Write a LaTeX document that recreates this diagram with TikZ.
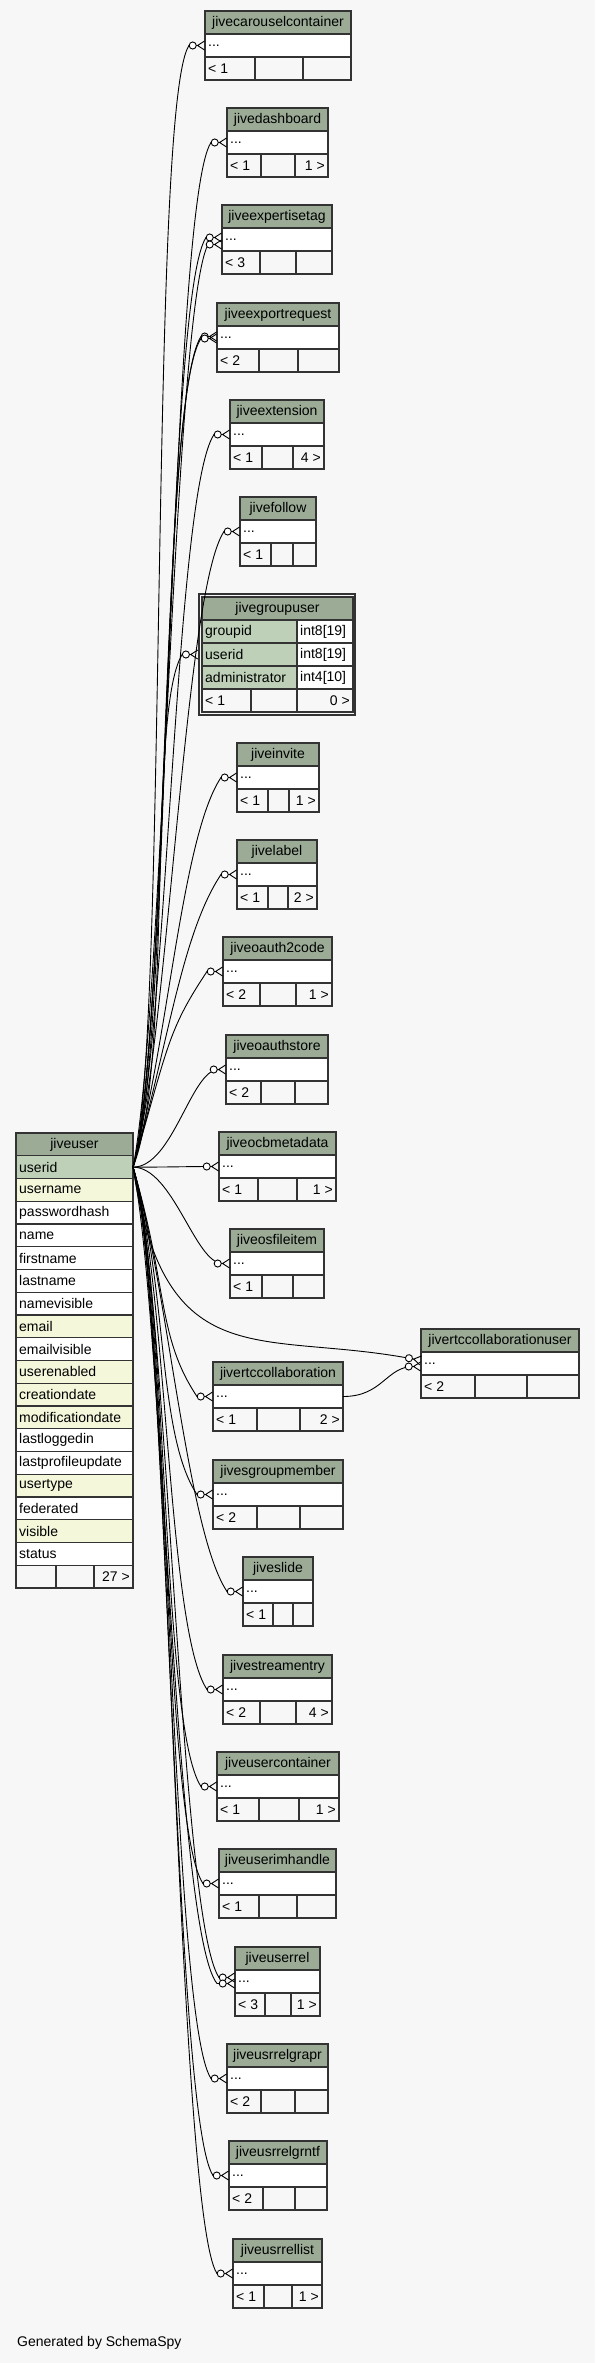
\documentclass[tikz,border=0pt]{standalone}
\usepackage{fontspec}
\setmainfont{Liberation Sans}
\usetikzlibrary{arrows.meta}
\definecolor{bgcol}{HTML}{F7F7F7}
\definecolor{headcol}{HTML}{9BAB96}
\definecolor{keycol}{HTML}{BED1B8}
\definecolor{idxcol}{HTML}{F4F7DA}
\definecolor{gridcol}{HTML}{333333}
\tikzset{
  cell/.style={draw=gridcol, line width=1.1pt, inner sep=0pt, outer sep=0pt,
               minimum height=23pt, font=\fontsize{14}{16}\selectfont},
  headcell/.style={cell, fill=headcol},
  txt/.style={inner sep=3pt, font=\fontsize{14}{16}\selectfont},
  rel/.style={line width=0.9pt,
              -{Circle[fill=white, length=8pt] Straight Barb[reversed, length=7pt, width=9pt]}},
}
% id, title, x1, x2, top, footer split 1, footer split 2, left count, right count
\newcommand\erdtable[9]{%
  \node[headcell, minimum width={(#4-#3)*1pt}] (#1-h) at ({(#3+#4)/2},{#5+11.5}) {#2};
  \node[cell, fill=white, minimum width={(#4-#3)*1pt}] (#1-r) at ({(#3+#4)/2},{#5+34.5}) {};
  \node[txt, right] (#1-rt) at (#1-r.west) {...};
  \node[cell, fill=bgcol, minimum width={(#6-#3)*1pt}] (#1-f1) at ({(#3+#6)/2},{#5+57.5}) {};
  \node[cell, fill=bgcol, minimum width={(#7-#6)*1pt}] (#1-f2) at ({(#6+#7)/2},{#5+57.5}) {};
  \node[cell, fill=bgcol, minimum width={(#4-#7)*1pt}] (#1-f3) at ({(#7+#4)/2},{#5+57.5}) {};
  \node[txt, right] (#1-fl) at (#1-f1.west) {#8};
  \node[txt, left] (#1-fr) at (#1-f3.east) {#9};
}

\begin{document}
\begin{tikzpicture}[x=1pt, y=-1pt]
  \fill[bgcol] (0,0) rectangle (595,2363);
  \useasboundingbox (0,0) rectangle (595,2363);

  % jiveuser
  \node[headcell, minimum width=117pt, minimum height=22.75pt] (ju-h) at (74.5,1144.375) {jiveuser};
  \foreach \col/\fc [count=\i] in {userid/keycol, username/idxcol, passwordhash/white,
      name/white, firstname/white, lastname/white, namevisible/white, email/idxcol,
      emailvisible/white, userenabled/idxcol, creationdate/idxcol, modificationdate/idxcol,
      lastloggedin/white, lastprofileupdate/white, usertype/idxcol, federated/white,
      visible/idxcol, status/white} {
    \node[cell, fill=\fc, minimum width=117pt, minimum height=22.75pt] (ju-\col) at (74.5,{1144.375+22.75*\i}) {};
    \node[txt, right] (ju-\col-t) at (ju-\col.west) {\col};
  }
  \node[cell, fill=bgcol, minimum width=40pt, minimum height=22.75pt] (ju-f1) at (36,1576.6) {};
  \node[cell, fill=bgcol, minimum width=38pt, minimum height=22.75pt] (ju-f2) at (75,1576.6) {};
  \node[cell, fill=bgcol, minimum width=39pt, minimum height=22.75pt] (ju-f3) at (113.5,1576.6) {};
  \node[txt, left] (ju-fr) at (ju-f3.east) {27 >};

  % jivegroupuser
  \node[draw=gridcol, line width=1.6pt, minimum width=156pt, minimum height=121pt, inner sep=0pt] (gu-frame) at (277,654.5) {};
  \node[headcell, minimum width=151pt] (gu-h) at (277.5,608.5) {jivegroupuser};
  \foreach \c/\ty [count=\i] in {groupid/int8[19], userid/int8[19], administrator/int4[10]} {
    \node[cell, fill=keycol, minimum width=95pt] (gu-\c) at (249.5,{608.5+23*\i}) {};
    \node[cell, fill=white, minimum width=56pt] (gu-\c-type) at (325,{608.5+23*\i}) {};
    \node[txt, right] (gu-\c-t) at (gu-\c.west) {\c};
    \node[txt, right] (gu-\c-tt) at (gu-\c-type.west) {\ty};
  }
  \node[cell, fill=bgcol, minimum width=49pt] (gu-f1) at (226.5,700.5) {};
  \node[cell, fill=bgcol, minimum width=46pt] (gu-f2) at (274,700.5) {};
  \node[cell, fill=bgcol, minimum width=56pt] (gu-f3) at (325,700.5) {};
  \node[txt, right] (gu-fl) at (gu-f1.west) {< 1};
  \node[txt, left] (gu-fr) at (gu-f3.east) {0 >};

  \erdtable{carousel}{jivecarouselcontainer}{205}{351}{11}{255}{303}{< 1}{}
  \erdtable{dashboard}{jivedashboard}{227}{328}{108}{261}{295}{< 1}{1 >}
  \erdtable{expertise}{jiveexpertisetag}{222}{332}{205}{260}{296}{< 3}{}
  \erdtable{exportreq}{jiveexportrequest}{217}{339}{303}{259}{298}{< 2}{}
  \erdtable{extension}{jiveextension}{230}{324}{400}{262}{293}{< 1}{4 >}
  \erdtable{follow}{jivefollow}{240}{316}{497}{271}{293}{< 1}{}
  \erdtable{invite}{jiveinvite}{237}{319}{743}{268}{289}{< 1}{1 >}
  \erdtable{label}{jivelabel}{237}{317}{840}{268}{288}{< 1}{2 >}
  \erdtable{oauthcode}{jiveoauth2code}{223}{332}{937}{260}{296}{< 2}{1 >}
  \erdtable{oauthstore}{jiveoauthstore}{226}{328}{1035}{261}{295}{< 2}{}
  \erdtable{ocbmeta}{jiveocbmetadata}{219}{336}{1132}{258}{297}{< 1}{1 >}
  \erdtable{osfile}{jiveosfileitem}{230}{324}{1229}{262}{293}{< 1}{}
  \erdtable{rtcuser}{jivertccollaborationuser}{421}{579}{1329}{475}{527}{< 2}{}
  \erdtable{rtccollab}{jivertccollaboration}{213}{343}{1362}{257}{300}{< 1}{2 >}
  \erdtable{sgroup}{jivesgroupmember}{213}{343}{1460}{257}{300}{< 2}{}
  \erdtable{slide}{jiveslide}{243}{313}{1557}{273}{293}{< 1}{}
  \erdtable{stream}{jivestreamentry}{223}{332}{1655}{260}{296}{< 2}{4 >}
  \erdtable{ucontainer}{jiveusercontainer}{217}{339}{1752}{259}{299}{< 1}{1 >}
  \erdtable{imhandle}{jiveuserimhandle}{219}{336}{1849}{259}{297}{< 1}{}
  \erdtable{userrel}{jiveuserrel}{235}{320}{1947}{265}{291}{< 3}{1 >}
  \erdtable{grapr}{jiveusrrelgrapr}{227}{328}{2044}{261}{295}{< 2}{}
  \erdtable{grntf}{jiveusrrelgrntf}{229}{327}{2141}{263}{295}{< 2}{}
  \erdtable{rellist}{jiveusrrellist}{233}{322}{2239}{264}{292}{< 1}{1 >}

  % relations: tables above jiveuser, then below
  \foreach \t in {carousel, dashboard, extension, follow, invite, label, oauthcode}
    \draw[rel] (ju-userid.east) .. controls +(35,-120) and +(-40,60) .. ([xshift=-16pt]\t-r.west) -- (\t-r.west);
  \draw[rel] (ju-userid.east) .. controls +(35,-120) and +(-40,60) .. ([xshift=-16pt, yshift=2pt]expertise-r.west) -- ([yshift=2pt]expertise-r.west);
  \draw[rel] (ju-userid.east) .. controls +(30,-150) and +(-34,66) .. ([xshift=-14pt, yshift=-5pt]expertise-r.west) -- ([yshift=-5pt]expertise-r.west);
  \draw[rel] (ju-userid.east) .. controls +(35,-120) and +(-40,60) .. ([xshift=-16pt, yshift=1pt]exportreq-r.west) -- ([yshift=1pt]exportreq-r.west);
  \draw[rel] (ju-userid.east) .. controls +(38,-110) and +(-42,62) .. ([xshift=-16pt, yshift=-1pt]exportreq-r.west) -- ([yshift=-1pt]exportreq-r.west);
  \draw[rel] (ju-userid.east) .. controls +(40,-100) and +(-35,55) .. ([xshift=-16pt]gu-frame.west |- gu-userid) -- (gu-frame.west |- gu-userid);
  \foreach \t in {oauthstore, ocbmeta, osfile}
    \draw[rel] (ju-userid.east) .. controls +(40,0) and +(-35,0) .. (\t-r.west);
  \foreach \t in {rtccollab, sgroup, slide, stream, ucontainer, imhandle, grapr, grntf, rellist}
    \draw[rel] (ju-userid.east) .. controls +(35,120) and +(-40,-60) .. ([xshift=-16pt]\t-r.west) -- (\t-r.west);
  \draw[rel] (ju-userid.east) .. controls +(35,120) and +(-40,-60) .. ([xshift=-16pt, yshift=4pt]userrel-r.west) -- ([yshift=4pt]userrel-r.west);
  \draw[rel] (ju-userid.east) .. controls +(30,150) and +(-42,-52) .. ([xshift=-18pt, yshift=-2pt]userrel-r.west) -- ([yshift=-2pt]userrel-r.west);
  \draw[rel] (ju-userid.east) .. controls +(32,212) and +(-161,-31) .. ([yshift=3pt]rtcuser-r.west);
  \draw[rel] (rtccollab-r.east) .. controls +(40,0) and +(-35,0) .. ([yshift=-3pt]rtcuser-r.west);

  \node[txt, right] (credit) at (14,2343) {Generated by SchemaSpy};
\end{tikzpicture}
\end{document}
